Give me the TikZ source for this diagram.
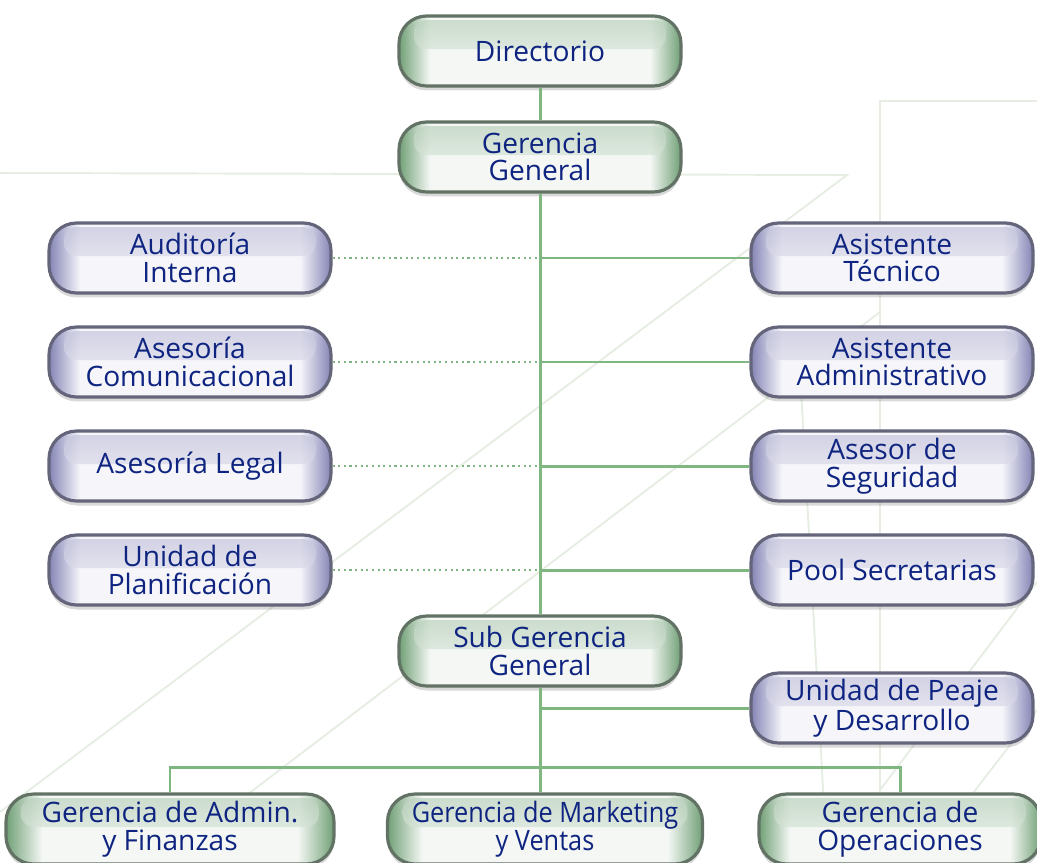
\documentclass[tikz,border=0pt]{standalone}
\usepackage{fontspec}
\setmainfont{Open Sans}
\newfontfamily\condfont[FakeStretch=0.9]{Open Sans}
\usepackage{xcolor}
\usetikzlibrary{shadows}

\definecolor{linegreen}{RGB}{128,182,128}
\definecolor{faintline}{RGB}{230,238,228}
\definecolor{textblue}{RGB}{14,36,128}
\definecolor{grim}{RGB}{98,114,100}
\definecolor{gside}{RGB}{112,160,118}
\definecolor{gcore}{RGB}{244,247,244}
\definecolor{prim}{RGB}{100,100,122}
\definecolor{pside}{RGB}{132,132,182}
\definecolor{pcore}{RGB}{245,245,250}

\pgfdeclarehorizontalshading{gpill}{100bp}{color(0bp)=(gside); color(25bp)=(gside);
    color(30.5bp)=(gcore); color(69.5bp)=(gcore); color(75bp)=(gside); color(100bp)=(gside)}
\pgfdeclarehorizontalshading{ppill}{100bp}{color(0bp)=(pside); color(25bp)=(pside);
    color(30.5bp)=(pcore); color(69.5bp)=(pcore); color(75bp)=(pside); color(100bp)=(pside)}

\begin{document}
\begin{tikzpicture}[x=0.02cm,y=-0.02cm,
    box/.style={rounded corners=0.55cm, minimum width=5.64cm, minimum height=1.4cm,
        line width=1.8pt, align=center, text=textblue, inner sep=0pt,
        font=\fontsize{16}{15.6}\selectfont,
        drop shadow={shadow xshift=0pt, shadow yshift=-0.09cm, opacity=0.3}},
    gbox/.style={box, draw=grim, shade, shading=gpill,
        path picture={
            \shade[top color=gside!50!white, bottom color=gcore, opacity=0.7, rounded corners=0.25cm]
                ([xshift=0.3cm,yshift=-0.08cm]path picture bounding box.north west)
                rectangle ([xshift=-0.3cm,yshift=0.04cm]path picture bounding box.east);}},
    pbox/.style={box, draw=prim, shade, shading=ppill,
        path picture={
            \shade[top color=pside!50!white, bottom color=pcore, opacity=0.7, rounded corners=0.25cm]
                ([xshift=0.3cm,yshift=-0.08cm]path picture bounding box.north west)
                rectangle ([xshift=-0.3cm,yshift=0.04cm]path picture bounding box.east);}},
    link/.style={draw=linegreen, line width=1.7pt},
    dotlink/.style={draw=linegreen, line width=1.2pt, dotted}]
    \useasboundingbox (0,0) rectangle (1037,862);

    % Background lines
    \path[draw=faintline, line width=1.1pt]
        (0,173) -- (847,175) -- (0,812)
        (880,312) -- (159,862)
        (1037,101) -- (880,101) -- (880,862)
        (800,370) -- (827,862)
        (1037,582) -- (880,790)
        (1037,710) -- (960,810);

    % Nodes
    \node[gbox] (dir) at (540,51) {Directorio};
    \node[gbox] (gg) at (540,157) {Gerencia\\General};
    \node[pbox] (aud) at (190,258) {Auditoría\\Interna};
    \node[pbox] (com) at (190,362) {Asesoría\\Comunicacional};
    \node[pbox] (leg) at (190,466) {Asesoría Legal};
    \node[pbox] (pla) at (190,570) {Unidad de\\Planificación};
    \node[pbox] (tec) at (892,258) {Asistente\\Técnico};
    \node[pbox] (asa) at (892,362) {Asistente\\Administrativo};
    \node[pbox] (seg) at (892,466) {Asesor de\\Seguridad};
    \node[pbox] (poo) at (892,570) {Pool Secretarias};
    \node[gbox] (sgg) at (540,651) {Sub Gerencia\\General};
    \node[pbox] (pea) at (892,708) {Unidad de Peaje\\y Desarrollo};
    \node[gbox, minimum width=6.56cm] (gaf) at (170,829) {Gerencia de Admin.\\y Finanzas};
    \node[gbox, minimum width=6.3cm, font=\condfont\fontsize{16}{15.6}\selectfont] (gmv) at (545,829) {Gerencia de Marketing\\y Ventas};
    \node[gbox] (gop) at (900,829) {Gerencia de\\Operaciones};
    \coordinate (bus) at (540,767);

    % Edges
    \path[link]
        (dir) -- (gg)
        (gg) -- (sgg)
        (sgg.south) -- (sgg.south |- gmv.north)
        (tec.west) -- (tec.west -| gg.south)
        (asa.west) -- (asa.west -| gg.south)
        (seg.west) -- (seg.west -| gg.south)
        (poo.west) -- (poo.west -| gg.south)
        (pea.west) -- (pea.west -| sgg.south)
        (gaf.north) |- (bus) -| (gop.north);
    \path[dotlink]
        (aud.east) -- (aud.east -| gg.south)
        (com.east) -- (com.east -| gg.south)
        (leg.east) -- (leg.east -| gg.south)
        (pla.east) -- (pla.east -| gg.south);
\end{tikzpicture}
\end{document}
